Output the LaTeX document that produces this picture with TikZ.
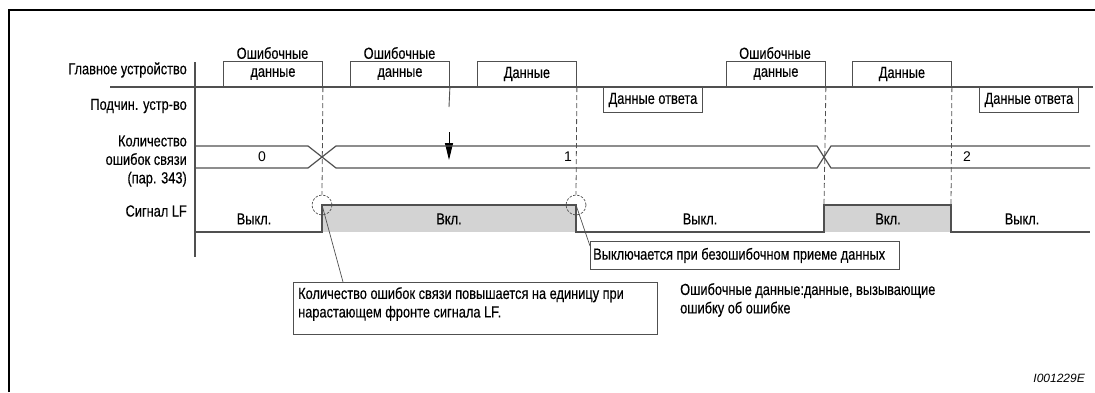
\documentclass[tikz,border=0pt]{standalone}
\usepackage{fontspec}
\setmainfont{Liberation Sans}[FakeStretch=0.8,FakeBold=0.3]
\newfontfamily\idfont{Liberation Sans}
\usetikzlibrary{arrows.meta,calc}
\definecolor{linegray}{HTML}{505050}
\definecolor{fillgray}{HTML}{D3D3D3}
\begin{document}
\begin{tikzpicture}[x=1pt,y=-1pt,
  txt/.style={font=\fontsize{16}{18.5}\selectfont, inner sep=0pt},
  lbl/.style={txt, anchor=east},
  sig/.style={draw=linegray, line width=1.2pt},
  databox/.style={draw=linegray, line width=0.9pt, inner sep=0pt, minimum width=99pt, minimum height=25pt, txt},
  call/.style={draw=linegray, line width=0.9pt, inner sep=0pt, anchor=north west, txt},
  guide/.style={draw=linegray, line width=0.8pt, dash pattern=on 5pt off 3pt},
  ring/.style={circle, draw=linegray, line width=0.7pt, dash pattern=on 2.5pt off 1.5pt, minimum size=20pt, inner sep=0pt},
  num/.style={font=\idfont\fontsize{14}{16}\selectfont, inner sep=0pt}]
\useasboundingbox (0,0) rectangle (1095,392);
% frame
\draw[line width=2pt] (8.5,392) -- (8.5,10) -- (1095,10);
% row labels
\node[lbl] (lm) at (187,70) {Главное устройство};
\node[lbl] (ls) at (187,106) {Подчин. устр-во};
\node[lbl, align=right] (lc) at (187,161) {Количество\\ошибок связи\\(пар. 343)};
\node[lbl] (llf) at (187,211) {Сигнал LF};
% axis and master line
\draw[sig] (195,62) -- (195,257);
\draw[sig] (110,87) -- (1093,87);
% master boxes
\node[databox, anchor=south west] (m1) at (223,87) {данные};
\node[txt] (m1t) at (272.5,53) {Ошибочные};
\node[databox, anchor=south west] (m2) at (350,87) {данные};
\node[txt] (m2t) at (399.5,53) {Ошибочные};
\node[databox, anchor=south west] (m3) at (477,87) {Данные};
\node[databox, anchor=south west] (m4) at (726,87) {данные};
\node[txt] (m4t) at (775,53) {Ошибочные};
\node[databox, anchor=south west] (m5) at (852,87) {Данные};
% slave boxes
\node[databox, anchor=north west] (s1) at (603,87) {Данные ответа};
\node[databox, anchor=north west] (s2) at (979,87) {Данные ответа};
% arrow
\draw[linegray, line width=0.9pt] (m2.south east) -- (449,107);
\coordinate (at) at (449,132);
\coordinate (ah) at (449,160);
\draw[black, line width=0.9pt, -{Triangle[width=8pt,length=17pt]}] (at) -- (ah);
% count bus
\draw[sig] (195,146) -- (308,146) -- (336,168) -- (817,168) -- (831,146) -- (1090,146);
\draw[sig] (195,168) -- (308,168) -- (336,146) -- (817,146) -- (831,168) -- (1090,168);
\node[num] (n0) at (262,157) {0};
\node[num] (n1) at (568,157) {1};
\node[num] (n2) at (967,157) {2};
% LF signal
\fill[fillgray] (322,205) rectangle (576,232);
\fill[fillgray] (824,205) rectangle (951,232);
\draw[sig] (195,232) -- (322,232) -- (322,205) -- (576,205) -- (576,232) -- (824,232) -- (824,205) -- (951,205) -- (951,232) -- (1090,232);
\node[txt] (off1) at (254,219) {Выкл.};
\node[txt] (on1) at (449,219) {Вкл.};
\node[txt] (off2) at (700,219) {Выкл.};
\node[txt] (on2) at (888,219) {Вкл.};
\node[txt] (off3) at (1022,219) {Выкл.};
% guides
\node[ring] (r1) at (322,205) {};
\node[ring] (r2) at (576,205) {};
\draw[guide] (m1.south east) -- (r1.north);
\draw[guide] (m3.south east) -- (r2.north);
\draw[guide] (m4.south east) -- (824,205);
\draw[guide] (m5.south east) -- (951,205);
% callouts
\node[call, minimum width=364pt, minimum height=52pt] (cb1) at (293,282) {};
\node[txt, anchor=north west, align=left] (cb1t) at ($(cb1.north west)+(5,5)$) {Количество ошибок связи повышается на единицу при\\нарастающем фронте сигнала LF.};
\node[call, minimum width=309pt, minimum height=28pt] (cb2) at (590,241) {};
\node[txt, anchor=west] (cb2t) at ($(cb2.west)+(3,0)$) {Выключается при безошибочном приеме данных};
\coordinate (cp1) at ($(cb1.north west)+(50,0)$);
\coordinate (cp2) at ($(cb2.north west)+(0,5)$);
\draw[linegray, line width=0.7pt] (r1.center) -- (cp1);
\draw[linegray, line width=0.7pt] (r2.center) -- (cp2);
\node[txt, anchor=north west, align=left] (note) at (680,283) {Ошибочные данные:данные, вызывающие\\ошибку об ошибке};
\node[font=\idfont\itshape\fontsize{12}{14}\selectfont, inner sep=0pt, anchor=east] (id) at (1085,378) {I001229E};
\end{tikzpicture}
\end{document}
